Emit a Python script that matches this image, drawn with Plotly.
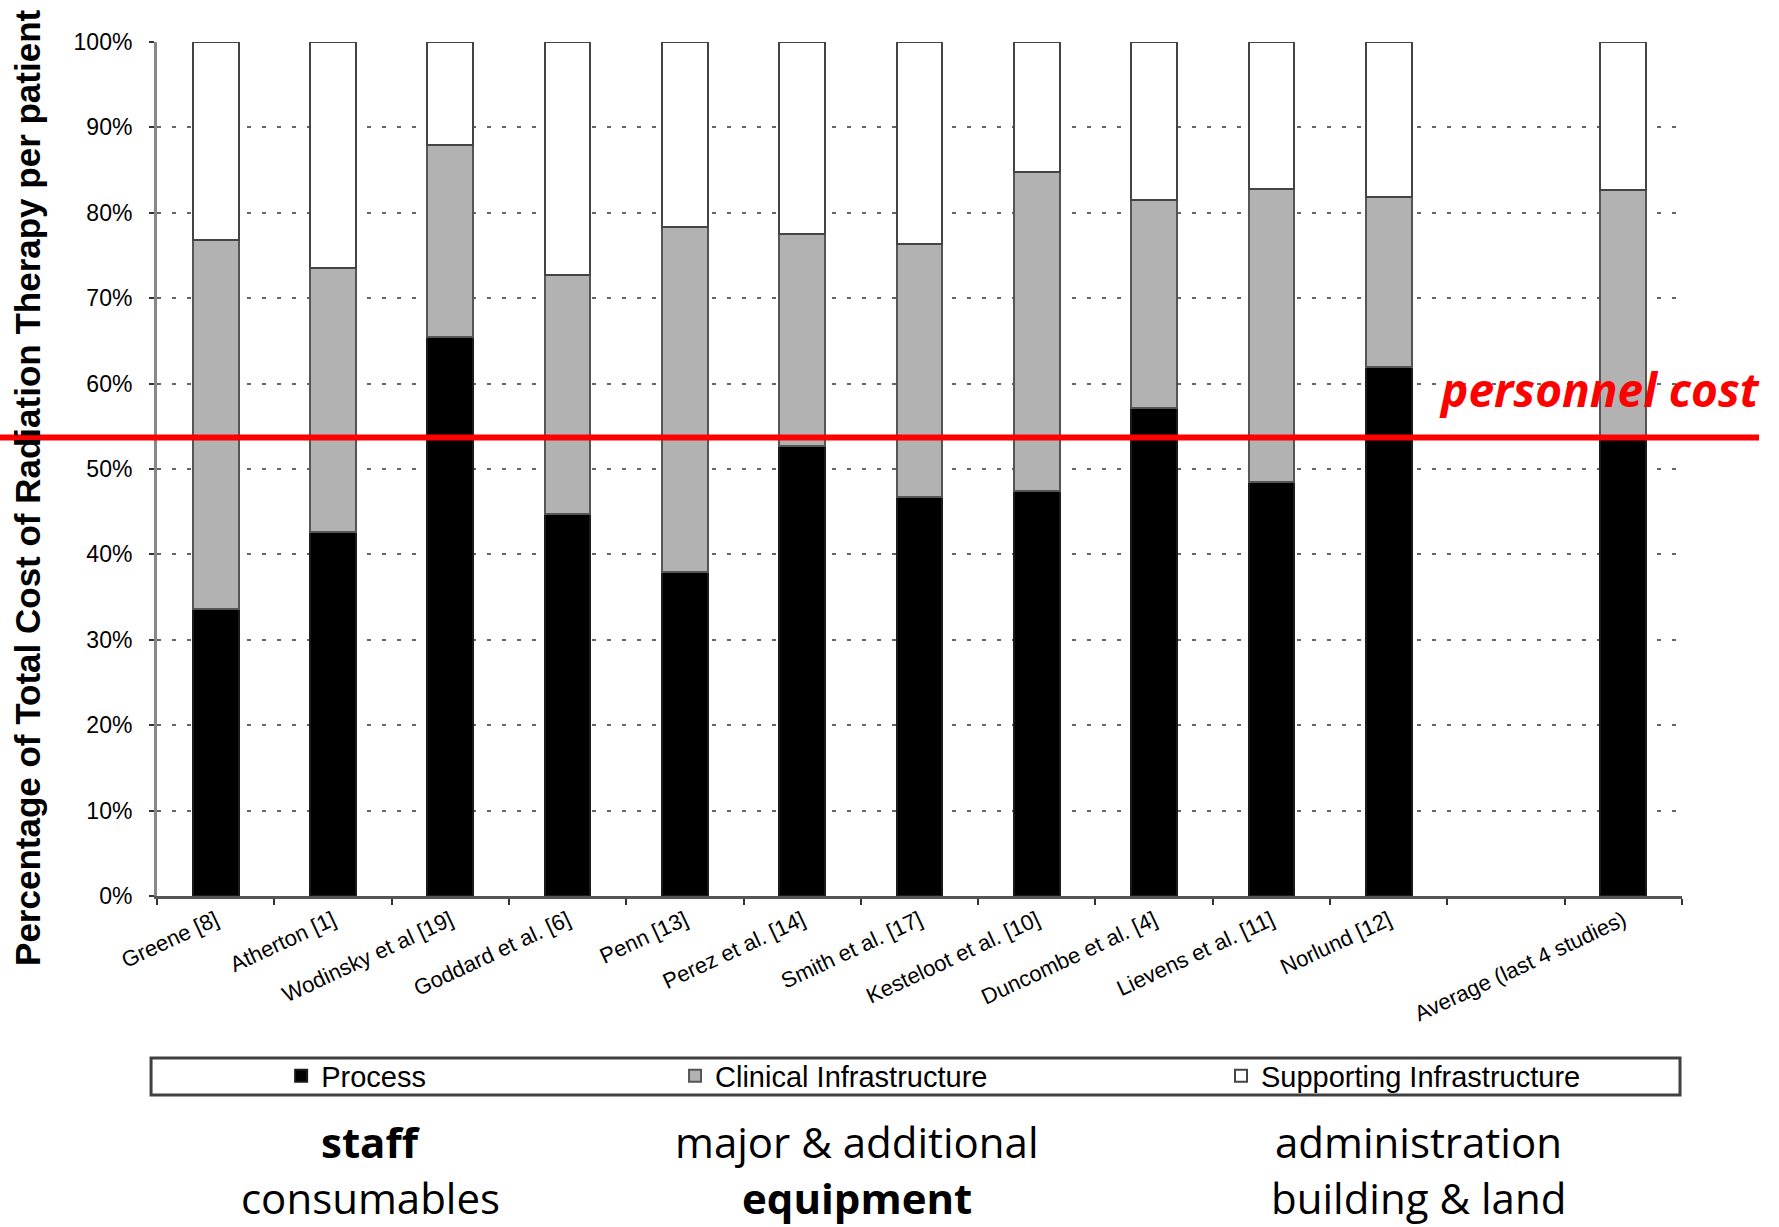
import plotly.graph_objects as go

# Studies on the x axis (the blank slot separates the individual studies from the average)
studies = [
    "Greene [8]", "Atherton [1]", "Wodinsky et al [19]", "Goddard et al. [6]",
    "Penn [13]", "Perez et al. [14]", "Smith et al. [17]", "Kesteloot et al. [10]",
    "Duncombe et al. [4]", "Lievens et al. [11]", "Norlund [12]", " ",
    "Average (last 4 studies)",
]

# Share of total cost per patient (%)
process = [33.6, 42.6, 65.5, 44.7, 37.9, 52.7, 46.7, 47.4, 57.1, 48.5, 61.9, None, 53.7]
clinical_infra = [43.2, 30.9, 22.4, 28.0, 40.4, 24.8, 29.6, 37.4, 24.4, 34.3, 20.0, None, 29.0]
supporting_infra = [23.2, 26.5, 12.1, 27.3, 21.7, 22.5, 23.7, 15.2, 18.5, 17.2, 18.1, None, 17.3]

personnel_cost_level = 53.7

y_ticks = [0, 10, 20, 30, 40, 50, 60, 70, 80, 90, 100]
y_tick_text = [f"{v}%" for v in y_ticks]

series_names = ["Process", "Clinical Infrastructure", "Supporting Infrastructure"]

CHART_FONT = "Liberation Sans, Arial, sans-serif"
NOTE_FONT = "Open Sans, sans-serif"

fig = go.Figure()

fig.add_trace(go.Bar(
    x=studies, y=process, name=series_names[0], legend="legend", showlegend=True,
    marker=dict(color="#000000", line=dict(color="#1a1a1a", width=2)),
))
fig.add_trace(go.Bar(
    x=studies, y=clinical_infra, name=series_names[1], legend="legend2", showlegend=True,
    marker=dict(color="#b2b2b2", line=dict(color="#555555", width=2)),
))
fig.add_trace(go.Bar(
    x=studies, y=supporting_infra, name=series_names[2], legend="legend3", showlegend=True,
    marker=dict(color="#ffffff", line=dict(color="#444444", width=2)),
))

legend_common = dict(
    orientation="h", yanchor="middle", y=-0.2108, xanchor="left",
    font=dict(family=CHART_FONT, size=29, color="#000000"),
    bgcolor="rgba(0,0,0,0)", borderwidth=0, itemwidth=30,
)

fig.update_layout(
    width=1779, height=1227,
    margin=dict(l=157, r=97, t=42, b=331),
    paper_bgcolor="white", plot_bgcolor="white",
    barmode="stack", bargap=0.61,
    showlegend=True,
    font=dict(family=CHART_FONT, color="#000000"),
    legend=dict(legend_common, x=0.0814),
    legend2=dict(legend_common, x=0.3397),
    legend3=dict(legend_common, x=0.6977),
    xaxis=dict(
        type="category", categoryorder="array", categoryarray=studies,
        range=[-0.5, len(studies) - 0.5],
        tickson="boundaries", ticks="outside", ticklen=6, tickwidth=2, tickcolor="#333333",
        tickangle=-25, tickfont=dict(family=CHART_FONT, size=22, color="#000000"),
        showgrid=False, showline=True, linecolor="#555555", linewidth=3,
        zeroline=False,
    ),
    yaxis=dict(
        range=[0, 100], tickvals=y_ticks, ticktext=y_tick_text,
        ticks="outside", ticklen=5, tickwidth=2, tickcolor="#333333",
        ticklabelstandoff=12,
        tickfont=dict(family=CHART_FONT, size=23, color="#000000"),
        showgrid=True, gridcolor="#666666", gridwidth=2, griddash="4px,11px",
        showline=True, linecolor="#888888", linewidth=3,
        zeroline=False,
    ),
)

# Border around the legend row
fig.add_shape(
    type="rect", xref="paper", yref="paper",
    x0=-0.0039, x1=0.9987, y0=-0.2330, y1=-0.1897,
    line=dict(color="#404040", width=3), fillcolor="rgba(0,0,0,0)", layer="above",
)

# Personnel cost threshold line
fig.add_shape(
    type="line", xref="paper", yref="y",
    x0=-0.103, x1=1.0505, y0=personnel_cost_level, y1=personnel_cost_level,
    line=dict(color="#ff0000", width=6), layer="above",
)

annotations = [
    dict(text="<b><i>personnel cost</i></b>", x=1.0525, y=0.5937, xanchor="right",
         font=dict(family=NOTE_FONT, size=46, color="#ff0000")),
    dict(text="<b>Percentage of Total Cost of Radiation Therapy per patient</b>",
         x=-0.0846, y=0.4778, textangle=-90,
         font=dict(family=CHART_FONT, size=35, color="#000000")),
    dict(text="<b>staff</b>", x=0.1403, y=-0.2880,
         font=dict(family=NOTE_FONT, size=42, color="#000000")),
    dict(text="consumables", x=0.1403, y=-0.3536,
         font=dict(family=NOTE_FONT, size=42, color="#000000")),
    dict(text="major &amp; additional", x=0.459, y=-0.2880,
         font=dict(family=NOTE_FONT, size=42, color="#000000")),
    dict(text="<b>equipment</b>", x=0.459, y=-0.3536,
         font=dict(family=NOTE_FONT, size=42, color="#000000")),
    dict(text="administration", x=0.8275, y=-0.2880,
         font=dict(family=NOTE_FONT, size=42, color="#000000")),
    dict(text="building &amp; land", x=0.8275, y=-0.3536,
         font=dict(family=NOTE_FONT, size=42, color="#000000")),
]
for a in annotations:
    a.setdefault("xanchor", "center")
    fig.add_annotation(xref="paper", yref="paper", yanchor="middle", showarrow=False, **a)

fig.write_html("out.html")
